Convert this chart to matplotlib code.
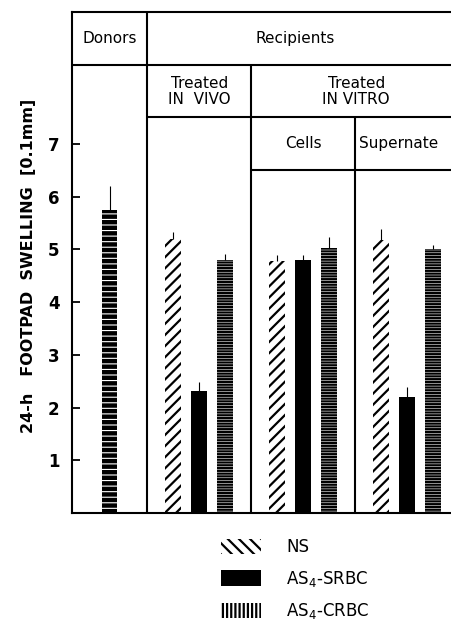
import matplotlib.pyplot as plt
import numpy as np
from matplotlib.patches import Patch

plt.rcParams['font.family'] = 'DejaVu Sans'
plt.rcParams['font.size'] = 11
plt.rcParams['hatch.linewidth'] = 1.6

# data (0.1 mm units)
donor_val = [5.75]
donor_err = [0.45]
groups = ['Treated IN VIVO', 'Cells', 'Supernate']
ns_val = [5.2, 4.77, 5.18]
ns_err = [0.13, 0.13, 0.2]
srbc_val = [2.32, 4.8, 2.2]
srbc_err = [0.17, 0.1, 0.19]
crbc_val = [4.8, 5.03, 5.0]
crbc_err = [0.11, 0.21, 0.08]

yticks = [1, 2, 3, 4, 5, 6, 7]

fig = plt.figure(figsize=(4.51, 6.25), dpi=100)
ax = fig.add_axes([0.1596, 0.1792, 0.8404, 0.8016])

bar_width = 0.6
sec = 4.0
first = 2.9
centers = first + sec / 2 + sec * np.arange(len(groups))

# donors: black with thin white gaps
ax.bar([first / 2], donor_val, width=bar_width, color='black', edgecolor='black', linewidth=0)
with plt.rc_context({'hatch.linewidth': 0.8}):
    ax.bar([first / 2], donor_val, width=bar_width, color='none', edgecolor='white', hatch='---', linewidth=0)

ax.bar(centers - 1, ns_val, width=bar_width, color='white', edgecolor='black', hatch='///', linewidth=0)
ax.bar(centers, srbc_val, width=bar_width, color='black', edgecolor='black', linewidth=0)
ax.bar(centers + 1, crbc_val, width=bar_width, color='white', edgecolor='black', hatch='------', linewidth=0)

# error bars, upper only
xs = np.concatenate([[first / 2], centers - 1, centers, centers + 1])
ys = np.concatenate([donor_val, ns_val, srbc_val, crbc_val])
es = np.concatenate([donor_err, ns_err, srbc_err, crbc_err])
ax.errorbar(xs, ys, yerr=[np.zeros_like(es), es], fmt='none', ecolor='black', elinewidth=0.8, capsize=0)

xmax = first + sec * 2 + 3.7
ax.set_xlim(0, xmax)
ax.set_ylim(0, 9.5)

# header grid
lw = 1.5
ax.axhline(8.5, color='black', lw=lw)
ax.hlines(7.5, first, xmax, color='black', lw=lw)
ax.hlines(6.5, first + sec, xmax, color='black', lw=lw)
ax.vlines(first, 0, 9.5, color='black', lw=lw)
ax.vlines(first + sec, 0, 8.5, color='black', lw=lw)
ax.vlines(first + 2 * sec, 0, 7.5, color='black', lw=lw)

ax.text(first / 2, 9.0, 'Donors', ha='center', va='center', fontsize=11)
ax.text(8.6, 9.0, 'Recipients', ha='center', va='center', fontsize=11)
ax.text(centers[0], 8.0, 'Treated\nIN  VIVO', ha='center', va='center', fontsize=11, linespacing=1.1)
ax.text(10.95, 8.0, 'Treated\nIN VITRO', ha='center', va='center', fontsize=11, linespacing=1.1)
ax.text(centers[1], 7.0, 'Cells', ha='center', va='center', fontsize=11)
ax.text(centers[2] - 0.3, 7.0, 'Supernate', ha='center', va='center', fontsize=11)

ax.set_xticks([])
ax.set_yticks(yticks)
ax.set_yticklabels([str(t) for t in yticks], fontsize=12, fontweight='bold')
ax.tick_params(axis='y', direction='in', length=6, width=1.3, pad=9)
for s in ['left', 'bottom', 'top']:
    ax.spines[s].set_linewidth(lw)
ax.spines['right'].set_visible(False)

fig.text(29 / 451, 1 - 266 / 625, '24-h   FOOTPAD  SWELLING  [0.1mm]', rotation=90,
         ha='center', va='center', fontsize=11.5, fontweight='bold')

handles = [Patch(facecolor='white', edgecolor='black', hatch='\\\\\\', linewidth=0),
           Patch(facecolor='black', edgecolor='black', linewidth=0),
           Patch(facecolor='white', edgecolor='black', hatch='||||', linewidth=0)]
labels = ['NS', 'AS$_4$-SRBC', 'AS$_4$-CRBC']
fig.legend(handles, labels, loc='upper left', bbox_to_anchor=(0.472, 0.152), frameon=False,
           handlelength=2.4, handleheight=1.05, handletextpad=1.5, labelspacing=0.75,
           borderpad=0, fontsize=12)

fig.savefig('out.png', dpi=100)
